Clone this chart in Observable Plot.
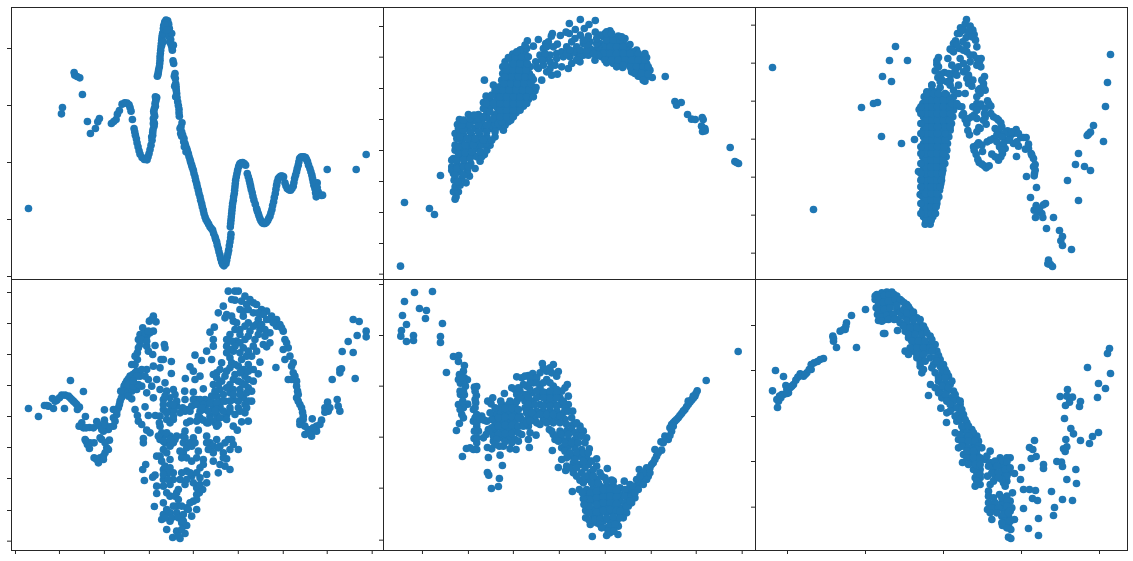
<!DOCTYPE html>
<html><head><meta charset="utf-8">
<script src="https://cdn.jsdelivr.net/npm/d3@7"></script>
<script src="https://cdn.jsdelivr.net/npm/@observablehq/plot@0.6"></script>
<style>html,body{margin:0;background:#fff}#c{position:relative;width:1133px;height:561px;overflow:hidden}#c svg{position:absolute;background:transparent;overflow:visible}</style>
</head><body><div id="c"></div>
<script>
// values (unlabelled axes, reading units)
const series1 = [[85,625],[184,341],[187,322],[222,217],[224,225],[231,229],[239,233],[247,283],[262,364],[271,400],[286,385],[293,365],[298,355],[334,370],[341,364],[348,358],[352,342],[358,331],[366,312],[374,308],[381,309],[387,314],[390,322],[393,333],[397,358],[402,385],[404,395],[406,405],[409,416],[411,428],[414,440],[417,452],[420,462],[426,472],[433,478],[441,479],[444,470],[447,460],[450,448],[453,435],[456,420],[458,405],[458,396],[462,378],[461,365],[460,355],[462,340],[463,325],[465,310],[468,297],[470,292],[472,228],[475,215],[478,200],[480,180],[481,160],[483,140],[485,120],[487,105],[489,98],[491,76],[494,66],[498,60],[503,62],[506,72],[508,85],[510,100],[512,118],[514,135],[517,150],[519,182],[521,190],[525,220],[526,235],[527,250],[528,265],[530,280],[533,305],[537,327],[538,348],[546,368],[543,380],[545,395],[548,405],[552,415],[555,430],[560,445],[565,460],[570,478],[575,495],[580,510],[585,530],[590,550],[595,570],[600,590],[605,610],[610,630],[615,650],[622,665],[630,680],[638,690],[645,710],[650,725],[655,745],[660,765],[665,785],[672,797],[678,790],[682,770],[686,750],[690,725],[693,702],[691,680],[693,660],[695,640],[697,620],[700,600],[703,580],[705,560],[707,540],[711,520],[716,500],[720,490],[728,487],[737,495],[742,520],[748,540],[752,558],[757,578],[762,600],[770,625],[775,640],[780,655],[787,668],[795,670],[803,662],[810,648],[816,628],[821,605],[826,580],[830,555],[835,535],[843,528],[851,530],[855,548],[862,565],[872,570],[880,558],[884,535],[890,515],[895,495],[899,475],[907,470],[917,472],[923,485],[930,505],[936,525],[940,545],[945,565],[949,590],[952,548],[955,575],[965,586],[982,508],[1069,508],[1099,463]];
const series1b = [[557,438],[562,452],[567,469],[572,486],[577,502],[582,520],[587,540],[592,560],[597,580],[602,600],[607,620],[612,640],[618,658],[626,672],[634,685],[641,700],[647,717],[652,735],[657,755],[662,775],[668,792],[680,780],[684,760],[688,737],[692,713],[692,670],[694,650],[696,630],[698,610],[701,590],[704,570],[706,550],[709,530],[713,510],[718,495],[724,488],[733,490],[745,530],[750,549],[754,568],[759,589],[766,612],[772,632],[777,647],[783,662],[791,670],[799,667],[806,655],[813,638],[818,616],[823,592],[828,567],[832,545],[839,531],[847,528],[858,557],[867,569],[876,565],[882,547],[887,525],[892,505],[897,485],[903,471],[912,470],[920,478],[926,495],[933,515],[938,535],[942,555],[947,578],[528,258],[529,272],[531,292],[535,316],[537,338],[474,222],[476,208],[479,190],[480,170],[482,150],[484,130],[486,112],[488,100],[490,85],[500,70],[495,75],[505,90],[507,110],[511,128],[516,143],[520,135],[515,100],[500,90],[485,135],[490,125],[523,228],[524,258],[527,290],[545,408],[551,425],[553,440],[558,455],[540,385],[542,400],[463,370],[459,388],[455,410],[466,318],[464,348],[461,333],[467,303],[460,370],[466,290],[948,570],[944,548],[952,562],[968,585]];
const series2 = [[61,798],[73,607],[148,625],[163,643],[181,526],[313,240],[856,229],[885,304],[890,315],[904,307],[923,343],[935,357],[946,358],[967,352],[970,358],[965,378],[975,385],[968,394],[976,392],[1051,442],[1065,484],[1070,487],[1076,490],
[225,597],[228,590],[220,575],[235,575],[225,560],[240,555],[258,548],[222,540],[245,535],[268,528],[220,520],[240,515],[262,515],[285,505],[215,500],[232,495],[252,490],[272,490],[300,483],[220,475],[240,470],[260,468],[280,465],[313,463],[225,450],[245,448],[265,445],[290,445],[320,450],[225,435],[245,425],[270,425],[295,425],[330,435],[230,415],[250,405],[275,405],[300,405],[320,410],[345,410],[225,400],[240,395],[260,385],[285,385],[310,385],[335,385],[232,373],[238,358],[258,368],[283,362],[305,365],[330,365],[355,380],[265,343],[295,343],[320,340],[345,345],[370,390],[310,307],[318,288],[330,300],[330,320],[340,255],[350,320],[375,375],[385,365],
[355,360],[375,355],[392,360],[350,340],[370,340],[390,340],[408,338],[350,320],[370,320],[390,320],[410,320],[430,318],[350,300],[370,300],[390,300],[410,300],[430,300],[445,298],[350,280],[370,280],[390,280],[410,280],[430,280],[450,280],[465,272],[358,260],[378,260],[398,260],[418,260],[438,260],[458,260],[365,240],[385,240],[405,240],[425,240],[445,240],[460,238],[368,220],[388,220],[408,220],[428,220],[448,220],[368,200],[388,200],[408,200],[428,200],[450,200],[375,185],[395,180],[415,180],[435,180],[398,162],[415,160],[435,160],[425,148],[440,145],
[442,122],[460,138],[475,118],[467,185],[475,205],[485,240],[490,145],[497,130],[505,125],[517,100],[514,108],[532,132],[541,106],[558,96],[568,70],[568,100],[586,88],[601,58],[601,105],[613,85],[627,73],[646,61],[625,108],[646,96],[480,165],[495,175],[510,165],[530,160],[545,155],[560,140],[575,125],[590,140],[610,130],[630,125],[490,195],[510,185],[525,195],[545,200],[565,205],[575,190],[600,185],[610,165],[625,165],[645,180],[645,150],[515,225],[532,222],[500,215],[550,170],[570,170],[590,160],[630,145],
[675,100],[690,92],[715,108],[735,115],[750,133],[770,150],[795,160],[680,188],[705,190],[728,202],[755,215],[775,228],[795,243],[817,232],[670,110],[690,110],[710,115],[730,125],[660,130],[680,130],[700,130],[720,130],[745,140],[660,150],[680,150],[700,150],[720,150],[740,150],[760,155],[665,170],[685,170],[705,170],[725,170],[745,170],[765,170],[785,170],[800,172],[700,190],[720,190],[740,190],[760,190],[780,190],[800,190],[755,210],[775,210],[795,210],[810,210],[785,230],[800,230]];
const series2b = [[215,510],[230,505],[250,500],[265,500],[225,525],[232,545],[250,525],[215,480],[230,480],[250,478],[270,475],[290,470],[305,470],[235,460],[255,458],[275,455],[300,455],[235,440],[255,435],[280,435],[305,435],[320,430],[240,410],[262,415],[285,415],[310,420],[335,420],[235,385],[250,390],[270,395],[295,395],[320,395],[345,395],[245,375],[270,375],[295,375],[320,375],[345,372],[250,360],[270,355],[295,355],[320,352],[340,355],[282,345],[308,350],[330,335],[310,325],[320,310],[340,310],[335,285],[345,270],[355,370],[365,365],
[360,350],[380,350],[400,350],[360,330],[380,330],[400,330],[420,330],[360,310],[380,310],[400,310],[420,310],[440,310],[360,290],[380,290],[400,290],[420,290],[440,290],[460,290],[368,270],[388,270],[408,270],[428,270],[448,270],[468,262],[372,250],[392,250],[412,250],[432,250],[452,250],[375,230],[395,230],[415,230],[435,230],[455,230],[378,210],[398,210],[418,210],[438,210],[375,195],[400,190],[420,190],[442,190],[385,172],[405,170],[425,170],[445,170],[420,150],[410,155],[435,135],
[680,120],[700,120],[720,120],[670,140],[690,140],[710,140],[730,140],[670,160],[690,160],[710,160],[730,160],[750,160],[775,160],[675,180],[695,180],[715,180],[735,180],[755,180],[775,180],[795,180],[710,200],[730,195],[750,200],[770,200],[790,200],[805,200],[765,220],[785,220],[805,222],[790,240],[660,105],[680,95],[655,140],[655,165],[680,100],[725,110],[695,100],
[650,130],[640,160],[620,150],[600,150],[580,155],[560,160],[530,175],[510,205],[495,160],[470,200],[485,180],[600,170],[590,180],[570,150],[620,135],[520,140],[500,140],[650,115],[610,120],[585,115]];
const series3 = [[67,202],[190,628],[334,322],[370,310],[382,307],[397,229],[394,409],[418,181],[424,244],[436,139],[454,430],[472,181],[493,418],[505,514],[510,583],[507,328],
[1081,163],[1072,247],[1066,319],[1030,376],[1021,396],[1015,402],[1011,406],[1060,424],[985,460],[976,493],[1003,499],[1021,511],[952,541],[985,601],[910,652],[928,691],[937,709],[932,722],[937,736],[964,748],[889,685],[895,780],[893,791],[901,793],[907,799],[829,529],[859,562],[841,592],[853,520],[852,527],[886,610],[880,614],[858,616],[852,630],[866,635],[875,640],[856,652],[878,652],
[855,493],[850,475],[843,460],[835,445],[826,447],[835,432],[828,412],[812,412],[798,388],[790,400],[772,392],[780,408],[768,420],[790,430],[805,438],[799,469],[765,445],[757,460],[752,470],[745,480],[730,415],[740,425],[748,440],[725,462],[711,425],[685,428],[670,440],[678,463],[687,487],[702,497],[708,503],[717,497],[697,454],[653,391],[658,404],[680,395],[686,382],[735,385],[742,395],[752,368],[745,360],[730,350],[705,352],[708,372],[722,318],[712,302],[703,340],[680,310],[692,312],[668,320],[672,345],[680,355],[645,358],[650,362],[636,345],[626,318],[635,320],
[649,58],[631,83],[645,72],[660,78],[668,90],[622,100],[672,103],[648,112],[616,122],[676,120],[680,140],[650,135],[628,145],[600,147],[610,155],[650,155],[670,165],[693,175],[565,172],[593,175],[630,175],[660,185],[560,192],[605,195],[625,200],[680,195],[692,200],[555,212],[583,217],[605,222],[640,215],[703,229],[563,232],[650,235],[575,240],[600,240],[655,250],[700,250],[665,258],[545,255],[570,262],[600,255],[625,255],[690,265],[705,270],[645,280],[690,280],[610,270],[610,290],[625,280],[590,285],
[525,672],[540,672],[520,650],[535,650],[548,650],[518,630],[535,630],[552,630],[518,610],[535,610],[552,610],[560,610],[518,590],[535,590],[552,590],[566,590],[518,570],[535,570],[552,570],[568,570],[518,550],[535,550],[552,550],[572,550],[518,530],[535,530],[552,530],[574,530],[518,510],[535,510],[552,510],[568,510],[578,510],[518,490],[535,490],[552,490],[570,490],[584,490],[518,470],[535,470],[552,470],[570,470],[588,470],[518,450],[535,450],[552,450],[570,450],[590,450],[520,430],[537,430],[554,430],[572,430],[592,430],[520,410],[537,410],[554,410],[572,410],[596,410],[520,390],[537,390],[554,390],[572,390],[600,390],[520,370],[537,370],[554,370],[572,370],[590,370],[604,370],[520,350],[537,350],[554,350],[572,350],[590,350],[608,350],[518,330],[537,330],[554,330],[572,330],[590,330],[610,330],[518,310],[537,310],[554,310],[572,310],[590,310],[608,310],[522,290],[540,290],[556,290],[574,290],[530,275],[545,270],[560,275],[545,255]];
const series3b = [[527,660],[543,660],[526,640],[543,640],[556,640],[526,620],[543,620],[558,620],[526,600],[543,600],[560,600],[526,580],[543,580],[560,580],[526,560],[543,560],[560,560],[570,560],[526,540],[543,540],[560,540],[574,540],[526,520],[543,520],[560,520],[576,520],[526,500],[543,500],[560,500],[578,500],[526,480],[543,480],[560,480],[578,480],[526,460],[543,460],[560,460],[580,460],[528,440],[545,440],[562,440],[582,440],[528,420],[545,420],[562,420],[585,420],[528,400],[545,400],[562,400],[585,400],[528,380],[545,380],[562,380],[585,380],[600,380],[528,360],[545,360],[562,360],[580,360],[598,360],[528,340],[545,340],[562,340],[580,340],[600,340],[528,320],[545,320],[562,320],[580,320],[600,320],[528,300],[545,300],[562,300],[580,300],[600,300],[530,280],[550,280],[565,280],[585,280],
[512,640],[512,610],[512,560],[512,540],[512,520],[512,490],[512,460],[512,440],[512,400],[512,370],[512,340],[512,320],
[610,130],[628,100],[640,90],[655,95],[665,110],[638,125],[620,135],[605,150],[640,150],[660,165],[680,175],[688,185],[640,190],[615,210],[595,220],[572,222],[565,200],[560,182],[570,245],[590,245],[620,225],[650,205],[655,225],[668,240],[695,240],[685,270],[700,260],[680,290],[605,310],[620,310],[640,340],[655,355],[690,318],[680,330],[705,325],[716,310],[700,360],[722,340],[740,355],[755,380],[745,388],[740,405],[762,400],[785,395],[805,400],[820,412],[800,425],[778,420],[755,410],[760,430],[755,450],[735,470],[720,420],[695,435],[680,435],[672,450],[683,478],[695,492],[850,500],[855,510],[845,465],[860,630],[860,625],[868,625],[665,350],[690,385],[650,370]];
const series4 = [[85,397],[115,421],[133,388],[145,390],[157,367],[160,397],[170,372],[185,357],[195,357],[193,397],[210,365],[220,375],[230,385],[238,393],[232,400],[211,313],[250,346],[256,421],[245,440],[250,455],[268,454],[290,436],[280,455],[300,450],[313,432],[313,401],[340,400],[340,450],[325,460],[310,465],[258,495],[268,517],[282,500],[305,490],[328,492],[320,515],[315,530],[282,545],[295,560],[300,545],[310,540],[340,425],[350,415],[355,395],[360,375],[368,355],[372,330],[380,315],[390,300],[405,290],[395,265],[412,250],[415,215],[415,190],[428,155],[420,175],[440,180],[450,170],[460,165],[448,135],[460,120],[468,137],[440,210],[465,208],[445,225],[458,235],[493,205],[495,215],[483,250],[490,250],[514,256],[514,292],[380,340],[395,345],[410,340],[425,330],[395,368],[405,400],[412,418],[415,435],[425,445],[440,462],[450,470],[430,487],[430,500],[437,565],[428,580],[433,613],[458,603],[465,597],[420,300],[440,280],[460,270],[480,275],[445,310],[470,310],[495,320],[455,330],[480,340],[500,345],[520,340],[440,350],[460,365],[435,392],[445,418],[466,418],
[490,370],[510,365],[525,355],[554,345],[556,307],[585,237],[570,272],[580,285],[605,253],[600,300],[585,310],[580,348],[610,338],[555,370],[530,390],[548,395],[490,400],[510,405],[520,405],[555,405],[575,390],[590,370],[615,370],[635,360],[500,430],[480,450],[520,430],[570,435],[595,430],[620,440],[645,440],[490,480],[510,480],[555,465],[595,462],[525,490],[550,500],[580,485],[620,480],[630,500],[650,490],[685,490],[700,505],[715,520],[660,510],[670,530],[495,500],[480,540],[510,550],[550,530],[575,510],[595,525],[610,550],[640,555],[660,565],[690,580],[655,590],[680,548],[490,580],[520,590],[560,585],[600,575],[620,595],[490,610],[540,610],[575,600],[600,605],[620,620],[470,630],[490,630],[510,625],[555,625],[590,635],[470,652],[500,650],[510,660],[530,650],[590,655],[580,675],[490,680],[463,691],[530,690],[560,695],[590,700],[490,715],[510,710],[530,710],[550,715],[575,720],[485,730],[510,735],[545,740],[560,748],[500,760],[530,765],[555,772],[518,784],[540,787],
[670,90],[655,110],[643,153],[630,168],[640,190],[620,225],[640,210],[635,250],[685,45],[705,45],[715,45],[705,72],[735,60],[720,100],[760,80],[740,85],[785,100],[800,105],[815,120],[830,130],[840,145],[850,165],[855,190],[865,215],[855,250],[875,270],[880,290],[865,310],[890,315],[893,345],[890,365],[900,385],[908,408],[910,430],[900,445],[925,460],[935,480],[915,475],[937,428],[950,450],[965,432],[983,378],[975,395],[985,405],[1012,370],[1015,390],[1020,405],[997,310],[1020,290],[1025,278],[1027,226],[1045,196],[1060,229],[1060,130],[1078,136],[1072,178],[1099,165],[1099,182],[1066,307],[828,274],
[680,115],[700,135],[730,120],[760,110],[745,140],[775,130],[800,130],[810,170],[780,160],[750,165],[720,160],[690,175],[710,195],[735,190],[765,190],[790,205],[800,212],[680,210],[700,225],[730,215],[755,240],[780,258],[690,245],[665,260],[715,270],[740,240],[760,280],[775,293],[680,285],[705,295],[735,300],[650,290],[640,295],[665,315],[690,325],[715,315],[745,310],[760,315],[640,325],[660,340],[690,350],[720,340],[745,335],[650,360],[675,375],[700,370],[730,365],[755,375],[620,385],[640,395],[660,390],[690,395],[715,395],[735,385],[610,400],[630,420],[650,415],[680,415],[705,415],[735,410],[745,435],[725,437],[700,450],[712,462],[650,450],[675,425],[600,425]];
const series4b = [[140,388],[165,375],[178,365],[205,360],[215,370],[225,380],[237,450],[258,455],[295,445],[305,460],[315,445],[330,452],[345,435],[350,405],[358,385],[364,365],[370,345],[376,322],[385,308],[398,295],[410,285],[405,265],[405,240],[412,230],[420,205],[425,190],[435,170],[445,165],[455,130],[440,195],[425,280],[435,300],[385,325],[400,330],[415,325],[375,350],[385,360],[362,345],[410,300],[400,315],[300,485],[325,520],[310,550],[290,550],[315,500],[270,500],[262,505],[255,490],
[495,360],[490,385],[510,385],[530,375],[500,410],[520,420],[540,410],[560,400],[580,370],[600,370],[590,385],[625,375],[610,385],[480,420],[485,470],[480,490],[500,470],[490,495],[510,490],[478,440],[510,440],[475,480],[490,520],[510,510],[520,500],[500,530],[470,540],[485,555],[495,570],[510,575],[505,590],[490,595],[520,610],[505,610],[540,525],[560,515],[570,500],[585,500],[545,545],[560,545],[575,555],[590,545],[610,565],[590,590],[570,590],[545,590],[535,640],[525,660],[535,670],[545,690],[520,690],[500,700],[515,725],[495,725],[535,725],[545,760],[535,780],[550,735],[565,700],[570,680],[590,670],[598,650],[608,640],[600,625],[580,620],[560,610],[620,500],[640,510],[655,515],[675,500],[695,490],[690,520],[640,530],[625,520],[670,545],[675,570],[550,480],[530,480],[555,485],[520,385],[570,405],[595,420],[600,405],[640,380],[625,405],[560,440],[610,432],[630,430],[650,430],[590,435],
[695,70],[725,75],[750,70],[770,85],[745,100],[730,105],[775,110],[790,115],[810,130],[830,150],[770,145],[785,145],[735,150],[760,150],[795,160],[820,140],[845,155],[675,125],[695,120],[710,140],[705,160],[680,190],[695,195],[720,175],[745,180],[775,175],[795,180],[810,200],[860,200],[850,220],[870,240],[880,260],[885,300],[875,310],[890,330],[895,355],[895,375],[905,395],[910,420],[900,435],[915,450],[930,470],[950,465],[940,455],[960,445],[980,405],[990,395],[975,408],[1020,280],[720,200],[705,210],[720,230],[745,225],[770,225],[760,210],[690,220],[680,230],[695,260],[705,265],[725,250],[745,265],[730,280],[690,275],[660,280],[675,300],[720,290],[745,285],[700,310],[725,320],[650,305],[655,325],[680,335],[700,340],[735,325],[755,345],[645,345],[670,355],[700,355],[720,355],[740,350],[665,375],[690,375],[715,375],[745,375],[630,380],[650,380],[605,395],[650,400],[670,405],[690,405],[720,405],[740,395],[625,440],[660,425],[680,430],[655,445],[645,405]];
const series5 = [[103,49],[157,46],[73,76],[118,97],[139,103],[136,127],[67,118],[79,145],[187,142],[64,163],[62,180],[100,178],[181,181],[79,196],[100,193],[181,199],[220,241],[236,238],[235,256],[253,268],[199,289],[250,285],[238,295],[253,305],[262,311],[235,310],[241,321],[256,330],[283,333],[290,331],[241,355],[253,356],[289,358],[235,385],[263,384],[250,395],[245,415],[280,400],[287,380],[250,425],[238,442],[229,463],[280,435],[290,450],[295,465],[282,487],[290,500],[259,517],[280,520],[290,520],[247,541],[305,420],[320,435],[325,460],[310,485],[323,375],[338,365],[333,383],[373,352],[322,514],[335,518],[325,544],[360,537],[367,568],[322,589],[326,597],[358,607],[334,637],[355,631],
[345,415],[365,385],[385,385],[405,385],[345,440],[365,410],[385,410],[405,410],[420,420],[345,465],[365,435],[385,435],[405,435],[425,430],[340,495],[365,460],[385,460],[405,460],[425,475],[365,485],[385,485],[405,490],[370,510],[390,518],[408,520],[340,480],[450,470],[448,514],[445,490],[468,477],
[487,262],[520,265],[535,286],[480,290],[500,285],[515,290],[410,302],[425,305],[445,298],[458,292],[470,305],[562,325],[405,340],[420,345],[440,330],[460,320],[480,335],[520,330],[545,345],[565,360],[410,355],[435,355],[455,350],[480,360],[500,350],[520,355],[540,365],[435,375],[455,375],[480,385],[500,375],[520,380],[540,385],[565,385],[450,400],[470,405],[490,405],[510,405],[530,405],[550,410],[578,405],[445,425],[465,430],[490,430],[510,425],[530,425],[555,430],[575,425],[445,450],[470,440],
[600,450],[580,445],[610,465],[508,460],[520,475],[540,465],[560,465],[525,490],[545,490],[565,490],[585,490],[620,485],[545,515],[565,510],[585,515],[605,520],[517,523],[628,518],[575,540],[600,540],[620,545],[545,550],[650,548],[560,570],[580,560],[600,565],[625,565],[650,570],[535,574],[557,583],[580,590],[605,590],[630,590],[660,590],[682,577],[600,612],[625,610],[650,610],[675,605],[577,646],[598,640],
[695,612],[733,615],[620,640],[640,635],[660,630],[680,630],[700,630],[720,635],[750,625],[770,610],[620,660],[640,655],[660,655],[680,650],[700,650],[720,655],[745,645],[620,680],[640,675],[660,675],[680,670],[700,670],[720,675],[745,665],[765,665],[617,703],[640,700],[660,695],[680,690],[700,690],[720,695],[745,690],[617,725],[640,720],[660,715],[680,710],[700,710],[720,715],[740,710],[631,745],[650,740],[670,735],[690,735],[710,735],[730,725],[680,755],[700,755],[715,750],[637,781],[680,778],[714,775],[690,770],
[760,640],[770,630],[785,620],[800,610],[778,580],[800,590],[810,575],[820,560],[830,540],[825,520],[845,522],[843,497],[855,480],[865,490],[875,465],[875,445],[885,435],[895,425],[905,412],[915,400],[925,385],[935,372],[945,360],[952,344],[979,313],[1075,226]];
const series5b = [[285,345],[285,370],[285,395],[290,415],[285,425],[290,440],[283,465],[290,485],[300,430],[312,432],[270,515],[240,345],[248,375],[240,400],[250,310],[245,305],[250,345],
[355,400],[375,397],[395,397],[415,400],[335,430],[355,425],[375,422],[395,422],[415,425],[335,455],[355,450],[375,447],[395,447],[415,450],[355,475],[375,472],[395,472],[415,470],[350,490],[375,497],[395,500],[415,495],[358,510],[430,450],[440,440],[325,465],[318,475],[345,505],[362,375],[390,375],[410,375],[330,410],[345,395],[440,410],[435,395],
[490,275],[510,275],[530,300],[435,300],[450,305],[430,325],[450,320],[470,320],[500,310],[490,320],[510,320],[530,340],[395,335],[415,335],[450,340],[470,345],[490,348],[510,345],[530,350],[555,335],[420,365],[445,365],[470,365],[490,365],[510,365],[530,365],[550,375],[445,385],[465,385],[490,390],[510,390],[530,390],[555,395],[440,405],[460,415],[480,415],[500,415],[520,415],[540,420],[565,405],[450,435],[480,445],[500,440],[520,440],[540,440],[560,445],[455,410],[590,440],[600,460],[575,460],
[515,465],[530,480],[545,475],[565,475],[585,470],[595,480],[605,480],[535,495],[555,500],[575,500],[595,500],[615,500],[555,525],[570,530],[590,530],[610,530],[625,530],[560,545],[585,550],[610,555],[635,555],[570,575],[590,575],[615,575],[640,580],[590,600],[615,600],[640,600],[665,600],[610,620],[635,620],[655,620],[680,615],[700,615],
[630,650],[650,645],[670,640],[690,640],[710,642],[735,640],[760,630],[630,670],[650,665],[670,662],[690,660],[710,662],[735,660],[755,655],[628,690],[650,685],[670,680],[690,680],[710,682],[735,680],[755,680],[628,710],[650,708],[670,703],[690,700],[710,703],[733,703],[628,732],[645,730],[660,728],[680,725],[700,722],[720,725],[660,745],[690,750],[705,745],[665,755],[685,765],[702,765],[720,705],[610,668],[612,685],[607,650],
[775,640],[790,625],[755,660],[740,690],[750,675],[765,650],[790,605],[805,600],[815,565],[825,550],[835,530],[850,500],[860,485],[870,478],[880,440],[890,430],[900,418],[910,405],[920,392],[930,378],[940,366],[948,352],[925,375],[940,360],[800,575],[810,590],[790,590],[780,600],[870,455],[880,450]];
const series6 = [[67,344],[82,394],[76,283],[100,301],[85,375],[88,360],[100,355],[115,350],[107,328],[120,335],[130,325],[137,312],[150,293],[160,300],[170,290],[183,280],[183,265],[202,256],[220,247],[248,180],[250,195],[259,214],[270,165],[285,160],[289,140],[304,118],[319,214],[346,100],[404,172],
[380,55],[395,50],[410,48],[425,48],[375,70],[390,70],[405,68],[420,65],[440,60],[378,95],[393,90],[410,85],[430,80],[455,75],[382,115],[398,110],[415,105],[440,100],[470,85],[385,133],[405,130],[425,125],[443,130],[480,100],[490,115],[442,163],
[460,120],[480,125],[500,125],[450,140],[470,145],[490,145],[510,145],[465,165],[485,165],[505,165],[525,160],[475,185],[495,185],[515,185],[540,180],[495,205],[515,205],[535,205],[555,205],[465,225],[490,225],[510,225],[530,225],[560,225],[500,245],[515,245],[540,245],[570,250],[510,270],[515,290],[550,265],[570,270],[585,280],[555,290],[575,295],[595,300],[541,325],[535,358],[565,315],[585,320],[600,325],[570,340],[590,345],[610,345],[575,365],[600,365],[620,370],[572,396],[590,410],[610,395],[630,385],[625,415],[640,415],[589,439],[620,435],[650,440],[615,470],[640,460],[665,460],[680,480],[625,490],[645,485],[665,490],[685,495],[625,515],[645,510],[670,510],[695,515],[640,535],[660,535],[680,535],[637,559],[660,555],[680,555],[670,580],[690,580],[675,605],[690,605],[675,630],[690,625],
[720,525],[705,550],[725,560],[750,545],[770,545],[780,545],[730,580],[750,570],[765,570],[712,600],[735,600],[755,590],[775,590],[793,592],[720,625],[760,620],[770,615],[715,645],[748,655],[770,660],[787,650],[715,680],[735,680],[755,680],[780,675],[712,700],[735,700],[760,700],[785,695],[725,730],[755,720],[775,720],[793,730],[757,748],[775,748],[775,783],[782,787],
[814,574],[811,610],[820,640],[838,640],[856,643],[847,667],[862,673],[820,697],[865,727],[835,757],[865,778],[838,514],[848,520],[853,493],[843,547],[858,541],[880,565],[880,577],[904,646],[913,694],[910,718],[937,670],[967,673],[979,622],[950,610],[977,580],[920,556],[934,558],[937,571],[940,518],[950,512],[945,526],[947,490],[943,427],[962,457],[970,473],[991,493],[1018,502],[1027,481],[1045,469],[988,391],[991,376],[958,378],[946,388],[930,361],[952,340],[950,360],[967,363],[1042,364],[1066,337],[1045,322],[1012,274],[1081,292],[1072,232],[1078,217]];
const series6b = [[92,365],[110,340],[125,330],[143,303],[155,296],[165,295],[177,280],[250,187],[280,160],[287,150],[80,370],[95,355],[110,352],[192,260],[210,250],
[375,60],[385,62],[402,58],[417,56],[432,55],[385,80],[400,78],[415,75],[435,70],[450,70],[385,105],[403,100],[420,95],[440,88],[462,80],[390,122],[410,118],[430,115],[450,110],[395,135],[415,130],[432,130],[475,92],[460,100],[400,172],
[470,110],[490,108],[470,135],[490,130],[510,130],[460,150],[480,155],[500,155],[520,150],[475,175],[495,175],[515,175],[530,170],[485,195],[505,195],[525,195],[545,190],[480,215],[500,215],[520,215],[540,215],[475,235],[500,235],[520,235],[545,225],[565,238],[510,260],[525,255],[555,245],[560,255],[580,265],[575,280],[545,275],[520,280],[590,290],[565,305],[585,305],[605,315],[555,335],[575,330],[595,335],[615,355],[585,355],[565,350],[590,375],[610,375],[630,375],[600,385],[620,395],[600,405],[635,400],[615,420],[630,430],[645,430],[635,450],[655,450],[670,470],[650,470],[630,475],[655,480],[635,495],[655,495],[675,495],[685,510],[635,510],[655,515],[680,520],[650,525],[670,525],[650,545],[670,545],[690,545],[655,565],[675,565],[690,565],[680,590],[690,595],[680,615],
[710,540],[720,560],[715,570],[735,555],[755,555],[770,558],[740,570],[725,590],[745,590],[765,580],[770,600],[780,575],[755,610],[765,630],[730,615],[745,605],[715,660],[730,665],[755,665],[770,675],[725,695],[745,695],[770,690],[780,705],[720,710],[740,710],[760,715],[775,710],[765,735],[780,735],[782,760],[770,755],[755,740]];

const yTicks1 = [145,316,487,658,829];
const yTicks2 = [79,171,265,358,451,544,637,730,822];
const yTicks3 = [75,189,303,417,531,645,759];
const yTicks4 = [49,142,235,328,421,514,607,703,795];
const yTicks5 = [25,178,330,483,636,792];
const yTicks6 = [10,148,283,421,556,693];
const xTicks4 = [46,178,313,448,580,715,850,982,1117];
const xTicks5 = [127,265,400,538,676,814,949,1087];
const xTicks6 = [112,346,580,814,1048];

const blue = "#1f77b4", ink = "#262626";
const panels = [
 {data:series1.concat(series1b),xd:[34,1151],yd:[22,838],yt:yTicks1,xt:[],left:11,top:7,h:272},
 {data:series2.concat(series2b),xd:[10,1127],yd:[22,838],yt:yTicks2,xt:[],left:383,top:7,h:272},
 {data:series3.concat(series3b),xd:[16,1132],yd:[22,838],yt:yTicks3,xt:[],left:755,top:7,h:272},
 {data:series4.concat(series4b),xd:[34,1151],yd:[10,823],yt:yTicks4,xt:xTicks4,left:11,top:279,h:271},
 {data:series5.concat(series5b),xd:[10,1127],yd:[10,823],yt:yTicks5,xt:xTicks5,left:383,top:279,h:271},
 {data:series6.concat(series6b),xd:[16,1132],yd:[10,823],yt:yTicks6,xt:xTicks6,left:755,top:279,h:271}
];
const m = 10;
for (const p of panels) {
  const svg = Plot.plot({
    width: 372 + 2*m, height: p.h + 2*m,
    marginLeft: m, marginRight: m, marginTop: m, marginBottom: m,
    x: {domain: p.xd, axis: null},
    y: {domain: p.yd, reverse: true, axis: null},
    marks: [
      Plot.dot(p.data, {x: d => d[0], y: d => d[1], r: 3.8, fill: blue, stroke: "none", clip: false}),
      Plot.axisY(p.yt, {anchor: "left", tickSize: 4, tickFormat: () => "", stroke: ink, label: null}),
      Plot.axisX(p.xt, {anchor: "bottom", tickSize: 4, tickFormat: () => "", stroke: ink, label: null}),
      Plot.frame({stroke: ink, strokeWidth: 1})
    ]
  });
  svg.style.left = (p.left - m) + "px";
  svg.style.top = (p.top - m) + "px";
  document.getElementById("c").appendChild(svg);
}
</script></body></html>
